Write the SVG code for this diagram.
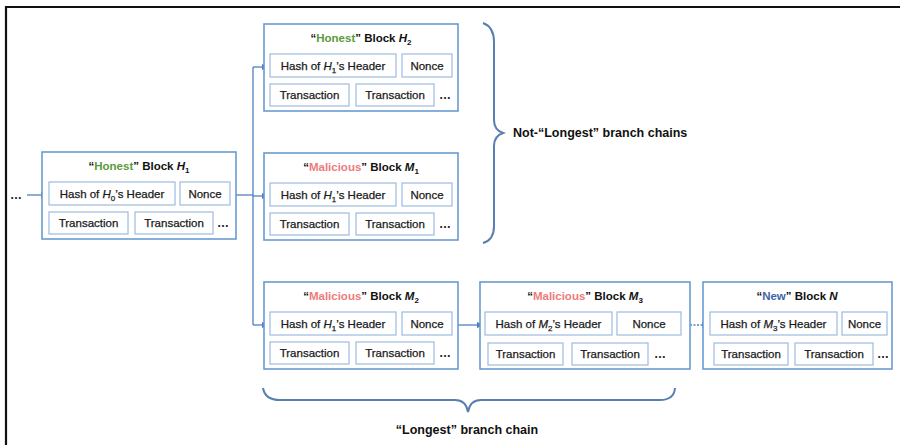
<svg xmlns="http://www.w3.org/2000/svg" width="900" height="445" viewBox="0 0 900 445">
<style>
.blk{fill:#fff;stroke:#6a9bd1;stroke-width:1.6}
.cell{fill:#fff;stroke:#9dbbe0;stroke-width:1.2}
.t{font-family:"Liberation Sans",Arial,sans-serif;font-size:11.5px;fill:#1a1a1a;stroke:#1a1a1a;stroke-width:0.25;text-anchor:middle}
.ttl{font-family:"Liberation Sans",Arial,sans-serif;font-size:11.5px;font-weight:bold;fill:#111;text-anchor:middle}
.dots{font-family:"Liberation Sans",Arial,sans-serif;font-size:12px;font-weight:bold;fill:#222;text-anchor:middle}
.lbl{font-family:"Liberation Sans",Arial,sans-serif;font-size:12.5px;font-weight:bold;fill:#111}
.hon{fill:#5b9a3a}
.mal{fill:#ec7c7c}
.new{fill:#3f63a8}
.conn{fill:none;stroke:#4f7fc0;stroke-width:1.3}
.brace{fill:none;stroke:#5a7eb0;stroke-width:2}
</style>
<defs>
<marker id="arr" viewBox="0 0 10 10" refX="9" refY="5" markerWidth="6" markerHeight="6" orient="auto">
<path d="M0,1 L10,5 L0,9 z" fill="#4f7fc0"/>
</marker>
</defs>
<rect x="0" y="0" width="900" height="445" fill="#fff"/>
<path d="M6,446 V7 H901" fill="none" stroke="#111" stroke-width="2.2"/>

<g id="connectors">
<text class="dots" x="16" y="199">…</text>
<line class="conn" x1="27" y1="195" x2="48" y2="195" marker-end="url(#arr)"/>
<polyline class="conn" points="236,195 253,195"/>
<line class="conn" x1="253" y1="67" x2="253" y2="325"/>
<line class="conn" x1="253" y1="67" x2="269" y2="67" marker-end="url(#arr)"/>
<line class="conn" x1="253" y1="196" x2="269" y2="196" marker-end="url(#arr)"/>
<line class="conn" x1="253" y1="325" x2="269" y2="325" marker-end="url(#arr)"/>
<line class="conn" x1="458" y1="325" x2="484" y2="325" marker-end="url(#arr)"/>
<line class="conn" x1="690" y1="325" x2="709" y2="325" stroke-dasharray="2,1.5" marker-end="url(#arr)"/>
</g>

<g id="H1">
<rect class="blk" x="42" y="152" width="194" height="87"/>
<text class="ttl" x="139" y="170">“<tspan class="hon">Honest</tspan>” Block <tspan font-style="italic">H</tspan><tspan font-size="8" dy="3">1</tspan></text>
<rect class="cell" x="49" y="182" width="126" height="23"/>
<text class="t" x="112" y="198">Hash of <tspan font-style="italic">H</tspan><tspan font-size="8" dy="3">0</tspan><tspan dy="-3">’s Header</tspan></text>
<rect class="cell" x="180" y="182" width="50" height="23"/>
<text class="t" x="205" y="198">Nonce</text>
<rect class="cell" x="49" y="212" width="79" height="22"/>
<text class="t" x="88.5" y="227">Transaction</text>
<rect class="cell" x="135" y="212" width="78" height="22"/>
<text class="t" x="174" y="227">Transaction</text>
<text class="dots" x="223" y="227">…</text>
</g>

<g id="H2">
<rect class="blk" x="264" y="24" width="194" height="87"/>
<text class="ttl" x="361" y="42">“<tspan class="hon">Honest</tspan>” Block <tspan font-style="italic">H</tspan><tspan font-size="8" dy="3">2</tspan></text>
<rect class="cell" x="270" y="54" width="126" height="23"/>
<text class="t" x="333" y="70">Hash of <tspan font-style="italic">H</tspan><tspan font-size="8" dy="3">1</tspan><tspan dy="-3">’s Header</tspan></text>
<rect class="cell" x="402" y="54" width="50" height="23"/>
<text class="t" x="427" y="70">Nonce</text>
<rect class="cell" x="270" y="84" width="79" height="22"/>
<text class="t" x="309.5" y="99">Transaction</text>
<rect class="cell" x="356" y="84" width="78" height="22"/>
<text class="t" x="395" y="99">Transaction</text>
<text class="dots" x="445" y="99">…</text>
</g>

<g id="M1">
<rect class="blk" x="264" y="153" width="194" height="87"/>
<text class="ttl" x="361" y="171">“<tspan class="mal">Malicious</tspan>” Block <tspan font-style="italic">M</tspan><tspan font-size="8" dy="3">1</tspan></text>
<rect class="cell" x="270" y="183" width="126" height="23"/>
<text class="t" x="333" y="199">Hash of <tspan font-style="italic">H</tspan><tspan font-size="8" dy="3">1</tspan><tspan dy="-3">’s Header</tspan></text>
<rect class="cell" x="402" y="183" width="50" height="23"/>
<text class="t" x="427" y="199">Nonce</text>
<rect class="cell" x="270" y="213" width="79" height="22"/>
<text class="t" x="309.5" y="228">Transaction</text>
<rect class="cell" x="356" y="213" width="78" height="22"/>
<text class="t" x="395" y="228">Transaction</text>
<text class="dots" x="445" y="228">…</text>
</g>

<g id="M2">
<rect class="blk" x="264" y="282" width="194" height="87"/>
<text class="ttl" x="361" y="300">“<tspan class="mal">Malicious</tspan>” Block <tspan font-style="italic">M</tspan><tspan font-size="8" dy="3">2</tspan></text>
<rect class="cell" x="270" y="312" width="126" height="23"/>
<text class="t" x="333" y="328">Hash of <tspan font-style="italic">H</tspan><tspan font-size="8" dy="3">1</tspan><tspan dy="-3">’s Header</tspan></text>
<rect class="cell" x="402" y="312" width="50" height="23"/>
<text class="t" x="427" y="328">Nonce</text>
<rect class="cell" x="270" y="342" width="79" height="22"/>
<text class="t" x="309.5" y="357">Transaction</text>
<rect class="cell" x="356" y="342" width="78" height="22"/>
<text class="t" x="395" y="357">Transaction</text>
<text class="dots" x="445" y="357">…</text>
</g>

<g id="M3">
<rect class="blk" x="480" y="282" width="210" height="87"/>
<text class="ttl" x="585" y="300">“<tspan class="mal">Malicious</tspan>” Block <tspan font-style="italic">M</tspan><tspan font-size="8" dy="3">3</tspan></text>
<rect class="cell" x="485" y="312" width="127" height="23"/>
<text class="t" x="548.5" y="328">Hash of <tspan font-style="italic">M</tspan><tspan font-size="8" dy="3">2</tspan><tspan dy="-3">’s Header</tspan></text>
<rect class="cell" x="617" y="312" width="64" height="23"/>
<text class="t" x="649" y="328">Nonce</text>
<rect class="cell" x="488" y="343" width="75" height="22"/>
<text class="t" x="525.5" y="358">Transaction</text>
<rect class="cell" x="572" y="343" width="76" height="22"/>
<text class="t" x="610" y="358">Transaction</text>
<text class="dots" x="660" y="358">…</text>
</g>

<g id="N">
<rect class="blk" x="703" y="282" width="189" height="87"/>
<text class="ttl" x="797" y="300">“<tspan class="new">New</tspan>” Block <tspan font-style="italic">N</tspan></text>
<rect class="cell" x="710" y="312" width="127" height="23"/>
<text class="t" x="773.5" y="328">Hash of <tspan font-style="italic">M</tspan><tspan font-size="8" dy="3">3</tspan><tspan dy="-3">’s Header</tspan></text>
<rect class="cell" x="842" y="312" width="45" height="23"/>
<text class="t" x="864.5" y="328">Nonce</text>
<rect class="cell" x="714" y="343" width="74" height="22"/>
<text class="t" x="751" y="358">Transaction</text>
<rect class="cell" x="795" y="343" width="78" height="22"/>
<text class="t" x="834" y="358">Transaction</text>
<text class="dots" x="883" y="358">…</text>
</g>

<g id="brace-not-longest">
<path class="brace" d="M483,23 Q494,27 494,42 V120 Q494,130 503,133 Q494,136 494,146 V226 Q494,240 483,243"/>
<text class="lbl" x="513" y="137">Not-“Longest” branch chains</text>
</g>

<g id="brace-longest">
<path class="brace" d="M263,388 Q265,400 280,400 H455 Q466,400 468,412 Q470,400 481,400 H660 Q674,400 675,388"/>
<text class="lbl" x="467" y="434" text-anchor="middle">“Longest” branch chain</text>
</g>
</svg>
